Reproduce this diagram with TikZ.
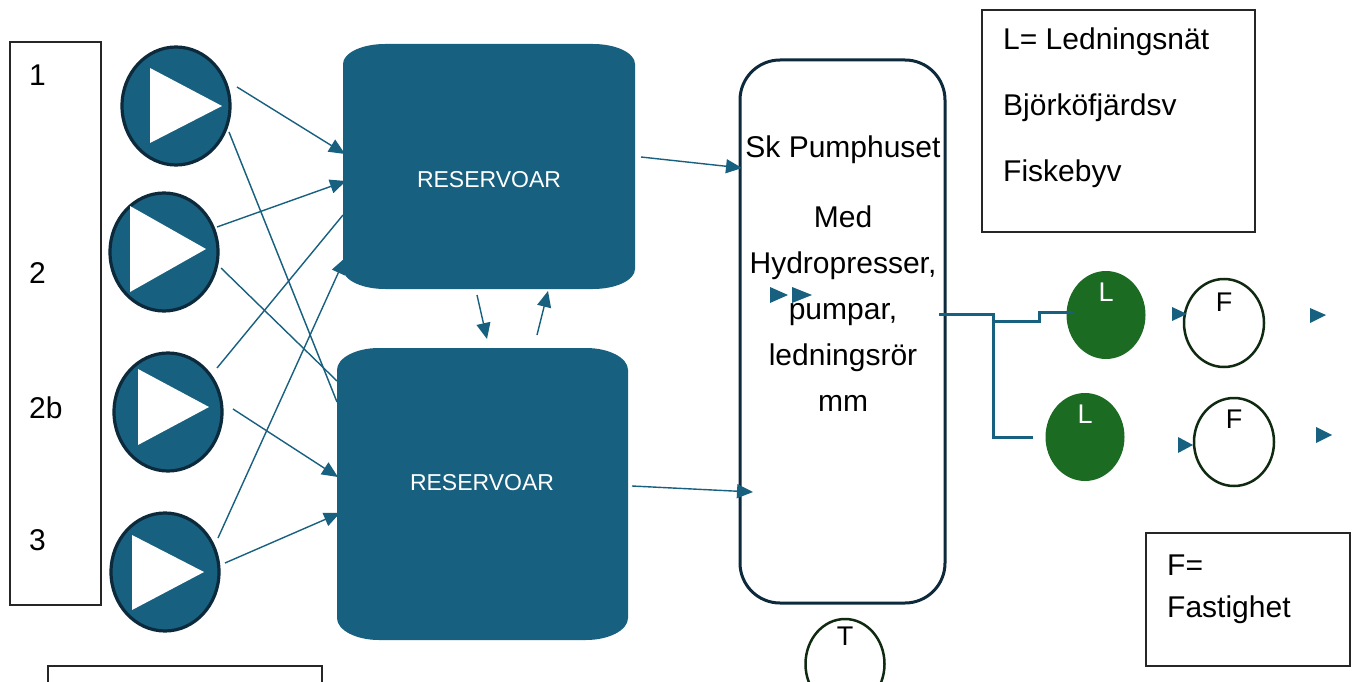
\documentclass[tikz,border=0pt]{standalone}
\usepackage{fontspec}
\setmainfont{Liberation Sans}
\usetikzlibrary{arrows.meta,shapes.geometric}
\definecolor{dblue}{HTML}{17607F}
\definecolor{navy}{HTML}{0C2A3B}
\definecolor{lgreen}{HTML}{1B6B23}
\definecolor{fgreen}{HTML}{0F2A10}
\tikzset{
  pump/.style={ellipse, draw=navy, line width=3.2pt, fill=dblue, inner sep=0pt, minimum width=108pt, minimum height=118pt},
  flow/.style={draw=dblue, line width=1.4pt, -{Triangle[length=16pt,width=14pt]}},
  plainflow/.style={draw=dblue, line width=1.4pt},
  pipe/.style={draw=dblue, line width=3pt},
  resv/.style={fill=dblue},
  tip/.style={fill=dblue},
  lnode/.style={ellipse, fill=lgreen, inner sep=0pt, minimum width=79pt, minimum height=88pt},
  fnode/.style={ellipse, draw=fgreen, line width=2.5pt, inner sep=0pt, minimum width=80pt, minimum height=88pt},
  frame/.style={draw=black!85, line width=1.2pt, inner sep=0pt},
  big/.style={font=\fontsize{30pt}{34pt}\selectfont, inner sep=0pt},
  mid/.style={font=\fontsize{23pt}{27pt}\selectfont, inner sep=0pt},
  letter/.style={font=\fontsize{27pt}{30pt}\selectfont, inner sep=0pt},
}
\begin{document}
\begin{tikzpicture}[x=1pt,y=-1pt]
\fill[white] (0,0) rectangle (1354,682);
\useasboundingbox (0,0) rectangle (1354,682);

% left number box
\node[frame, minimum width=91pt, minimum height=563pt] (numbox) at (55.5,323.5) {};
\node[big, anchor=west] (n1) at (29,75) {1};
\node[big, anchor=west] (n2) at (29,273) {2};
\node[big, anchor=west] (n2b) at (29,408) {2b};
\node[big, anchor=west] (n3) at (29,540) {3};

% bottom-left box (cut by the edge)
\node[frame, minimum width=274pt, minimum height=50pt] (botbox) at (185,691) {};

% reservoirs
\fill[resv] (385,44) -- (593,44) .. controls (616.2,44) and (635,53) .. (635,64) -- (635,269) .. controls (635,280) and (616.2,289) .. (593,289) -- (385,289) .. controls (361.8,289) and (343,280) .. (343,269) -- (343,64) .. controls (343,53) and (361.8,44) .. (385,44) -- cycle;
\node[mid, text=white] (r1) at (489,180) {RESERVOAR};
\fill[resv] (379,348) -- (586,348) .. controls (609.2,348) and (628,357.9) .. (628,370) -- (628,618) .. controls (628,630.1) and (609.2,640) .. (586,640) -- (379,640) .. controls (355.8,640) and (337,630.1) .. (337,618) -- (337,370) .. controls (337,357.9) and (355.8,348) .. (379,348) -- cycle;
\node[mid, text=white] (r2) at (482,483) {RESERVOAR};

% pumps
\node[pump] (p1) at (176,106) {};
\fill[white] (150,68) -- (150,143) -- (222,106) -- cycle;
\node[pump] (p2) at (164,252) {};
\fill[white] (130,206) -- (130,292) -- (206,249) -- cycle;
\node[pump] (p3) at (168,412) {};
\fill[white] (138,369) -- (138,445) -- (209,407) -- cycle;
\node[pump] (p4) at (165,572) {};
\fill[white] (132,535) -- (132,610) -- (204,572) -- cycle;

% connector end points
\coordinate (a1s) at (237,87);  \coordinate (a1e) at (345,154);
\coordinate (a2s) at (217,227); \coordinate (a2e) at (346,181);
\coordinate (a3s) at (229,132); \coordinate (a3e) at (337,402);
\coordinate (a4s) at (221,268); \coordinate (a4e) at (337,381);
\coordinate (a5s) at (217,368); \coordinate (a5e) at (343,215);
\coordinate (a6s) at (218,538); \coordinate (a6e) at (345,258);
\coordinate (a7s) at (233,409); \coordinate (a7e) at (338,477);
\coordinate (a8s) at (225,563); \coordinate (a8e) at (340,513);
\coordinate (d1s) at (477,295); \coordinate (d1e) at (487,339);
\coordinate (u1s) at (537,335); \coordinate (u1e) at (548,291);
\coordinate (o1s) at (641,157); \coordinate (o1e) at (742,168);
\coordinate (o2s) at (632,486); \coordinate (o2e) at (753,492);

\draw[flow] (a1s) -- (a1e);
\draw[flow] (a2s) -- (a2e);
\draw[plainflow] (a3s) -- (a3e);
\draw[plainflow] (a4s) -- (a4e);
\draw[plainflow] (a5s) -- (a5e);
\draw[flow] (a6s) -- (a6e);
\draw[flow] (a7s) -- (a7e);
\draw[flow] (a8s) -- (a8e);
\draw[flow] (d1s) -- (d1e);
\draw[flow] (u1s) -- (u1e);

% pump house
\node[draw=navy, line width=3pt, rounded corners=40pt, minimum width=205pt, minimum height=543pt, fill=white] (ph) at (842.5,331.5) {};
\draw[flow] (o1s) -- (o1e);
\draw[flow] (o2s) -- (o2e);
\node[big] (phtitle) at (843,150) {Sk Pumphuset};
\node[big, align=center, font=\fontsize{30pt}{46pt}\selectfont] (phtext) at (843,309) {Med\\Hydropresser,\\pumpar,\\ledningsrör\\mm};
\fill[tip] (770,287) -- (770,303) -- (788,295) -- cycle;
\fill[tip] (792,287) -- (792,303) -- (812,295) -- cycle;

% T
\node[fnode, minimum width=79pt, minimum height=90pt] (t) at (845,664) {};
\node[letter] (tl) at (845,636) {T};

% legend boxes
\node[frame, minimum width=273pt, minimum height=222pt] (leg) at (1118.5,121) {};
\node[big, anchor=west] (leg1) at (1003,42) {L= Ledningsnät};
\node[big, anchor=west] (leg2) at (1003,108) {Björköfjärdsv};
\node[big, anchor=west] (leg3) at (1003,174) {Fiskebyv};
\node[frame, minimum width=204pt, minimum height=133pt] (fleg) at (1248,599.5) {};
\node[big, anchor=west] (fleg1) at (1167,565) {F=};
\node[big, anchor=west] (fleg2) at (1167,610) {Fastighet};

% network L and property F
\node[lnode] (l1) at (1106,315) {};
\node[letter, text=white] at (1106,292) {L};
\node[lnode] (l2) at (1085,437) {};
\node[letter, text=white] at (1085,414) {L};
\node[fnode] (f1) at (1224,323) {};
\node[letter] at (1224,302) {F};
\node[fnode] (f2) at (1234,442) {};
\node[letter] at (1234,419) {F};

\fill[tip] (1172,307) -- (1172,321) -- (1187,314) -- cycle;
\fill[tip] (1310,308) -- (1310,323) -- (1326,315) -- cycle;
\fill[tip] (1178,437) -- (1178,453) -- (1193,445) -- cycle;
\fill[tip] (1316,427) -- (1316,443) -- (1332,435) -- cycle;

% pipes
\coordinate (ps) at (939,314);
\coordinate (pj) at (993,321);
\coordinate (pl1) at (1073,312);
\coordinate (pl2) at (1033,437);
\draw[pipe] (ps) -- (993,314) -- (pj) -- (1039,321) -- (1039,312) -- (pl1);
\draw[pipe] (pj) -- (993,437) -- (pl2);
\end{tikzpicture}
\end{document}
